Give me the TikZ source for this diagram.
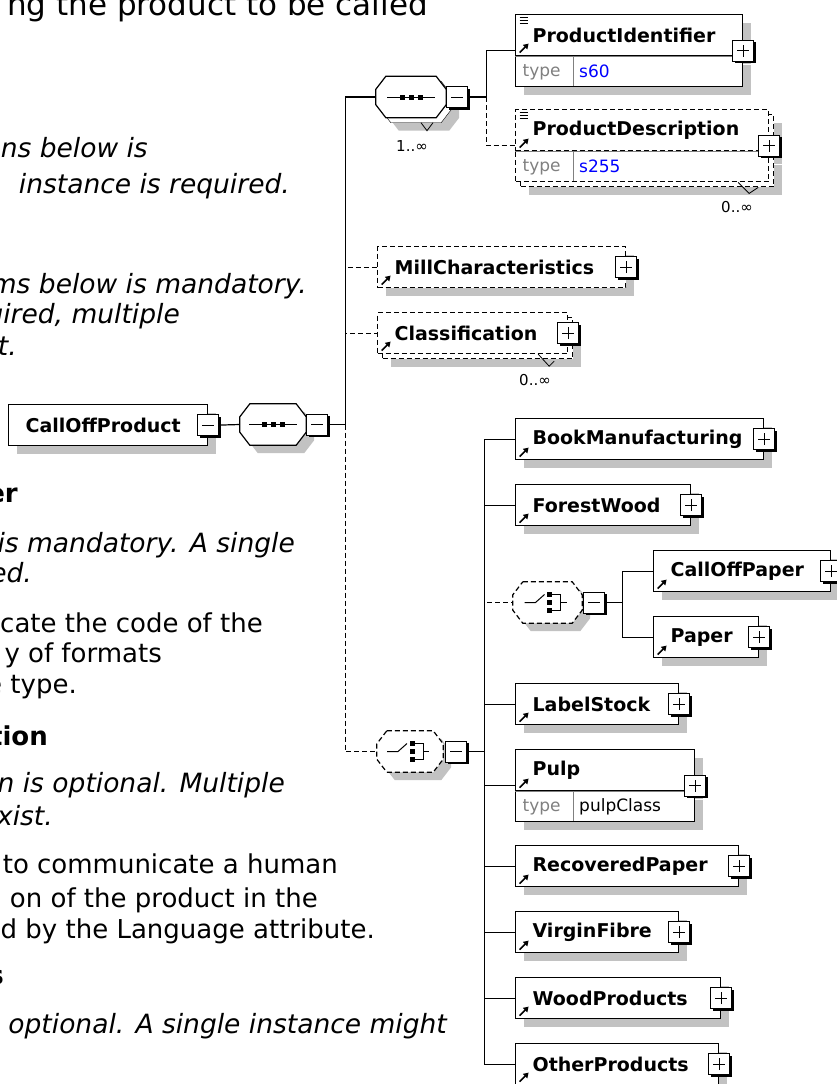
\documentclass[tikz,border=0pt]{standalone}
\usepackage{fontspec}
\setmainfont{DejaVu Sans}
\usetikzlibrary{positioning, arrows.meta, calc, shadows}
\hyphenpenalty=10000
\definecolor{shadowgray}{gray}{0.76}
\definecolor{xsdblue}{RGB}{0,0,255}
\newcommand{\elemfont}{\fontsize{19}{22}\selectfont\bfseries}
\newcommand{\typefont}{\fontsize{17}{20}\selectfont}
\newcommand{\cardfont}{\fontsize{15}{18}\selectfont}
\newcommand{\docfont}{\fontsize{26}{31}\selectfont}
\newcommand{\notefont}{\fontsize{26.5}{31}\selectfont\itshape}
\newcommand{\headfont}{\fontsize{31}{37}\selectfont}
% small icons drawn inside the boxes
\newcommand{\refarrow}{\draw[solid, line width=1.6pt, -{Triangle[length=5pt, width=6pt]}]
  ([shift={(4,-3)}]path picture bounding box.south west) -- ++(9,-9);}
\newcommand{\textlines}{\foreach \ly in {3,6,9}
  \draw[solid, line width=0.8pt] ([shift={(4,\ly)}]path picture bounding box.north west) -- ++(8,0);}
% compositor frame and symbols, drawn round a named node
\newcommand{\octagon}[2][]{\path[octframe, #1]
  ([xshift=10pt]#2.north west) -- ([xshift=-10pt]#2.north east) -- ([yshift=-13pt]#2.north east)
  -- ([yshift=13pt]#2.south east) -- ([xshift=-10pt]#2.south east) -- ([xshift=10pt]#2.south west)
  -- ([yshift=13pt]#2.south west) -- ([yshift=-13pt]#2.north west) -- cycle;}
\newcommand{\seqmark}[1]{\begin{scope}[shift={(#1.center)}, line width=1pt]
  \draw (-24,0) -- (24,0);
  \foreach \dx in {-9,0,9} \fill[black] (\dx-2.5,-2.5) rectangle (\dx+2.5,2.5);
\end{scope}}
\newcommand{\choicemark}[1]{\begin{scope}[shift={(#1.center)}, line width=1pt]
  \draw (-23,0) -- (-12,0) -- (-3,-8);
  \foreach \dy in {-8,0,8} \fill[black] (-0.5,\dy-2.5) rectangle (4.5,\dy+2.5);
  \draw (4.5,-8) -- (13,-8) -- (13,8) -- (4.5,8) (13,0) -- (19,0);
\end{scope}}

\begin{document}
\begin{tikzpicture}[x=1pt, y=-1pt, >=Stealth,
    link/.style={line width=1.2pt},
    optional/.style={dash pattern=on 5pt off 3pt},
    box/.style={draw, fill=white, line width=1.2pt, inner sep=0pt, align=left},
    boxshadow/.style={drop shadow={shadow xshift=8pt, shadow yshift=-8pt, fill=shadowgray, opacity=1}},
    multi/.style={drop shadow={shadow xshift=13pt, shadow yshift=-13pt, fill=shadowgray, opacity=1},
                  copy shadow={shadow xshift=5pt, shadow yshift=-5pt}},
    elem/.style={box, minimum height=41pt, inner xsep=17pt, text width=#1, font=\elemfont,
                 path picture={\refarrow}},
    simple/.style={path picture={\refarrow\textlines}},
    rootelem/.style={box, minimum height=41pt, inner xsep=17pt, text width=#1, font=\elemfont},
    typerow/.style={box, minimum height=30pt, inner xsep=7pt, text width=#1, font=\typefont, text=gray},
    typeval/.style={inner sep=0pt, font=\typefont, anchor=west},
    divider/.style={draw=gray, solid, line width=1pt, shorten >=1pt, shorten <=1pt},
    comp/.style={minimum width=#1, minimum height=41pt, inner sep=0pt},
    octframe/.style={draw, fill=white, line width=1.2pt},
    pmbox/.style={draw, fill=white, solid, line width=1pt, minimum size=21pt, inner sep=0pt,
                  drop shadow={shadow xshift=2pt, shadow yshift=-2pt, fill=black, opacity=1}},
    plusbox/.style={pmbox, path picture={\draw[line width=1pt]
        ([xshift=-6pt]path picture bounding box.center) -- ([xshift=6pt]path picture bounding box.center)
        ([yshift=-6pt]path picture bounding box.center) -- ([yshift=6pt]path picture bounding box.center);}},
    minusbox/.style={pmbox, path picture={\draw[line width=1pt]
        ([xshift=-6pt]path picture bounding box.center) -- ([xshift=6pt]path picture bounding box.center);}},
    card/.style={font=\cardfont, inner sep=0pt},
    tick/.style={line width=0.8pt},
    plain/.style={font=\docfont, inner sep=0pt, anchor=base east},
    note/.style={font=\notefont, inner sep=0pt, anchor=base east},
    heading/.style={font=\docfont\bfseries, inner sep=0pt, anchor=base east}]

\useasboundingbox (0,0) rectangle (837,1084);
\clip (0,0) rectangle (837,1084);
\fill[white] (0,0) rectangle (837,1084);

% page text behind the diagram
\node[font=\headfont, inner sep=0pt, anchor=base east] (intro) at (428,16) {ng the product to be called};
\node[note] (occa) at (148,157) {ns below is};
\node[note] (occb) at (290,193) {instance is required.};
\node[note] (occc) at (307,293) {ms below is mandatory.};
\node[note] (occd) at (180,323) {uired, multiple};
\node[note] (occe) at (17,355) {t.};
\node[heading] (pidhead) at (18,502) {er};
\node[note] (pidocca) at (295,552) {is mandatory. A single};
\node[note] (pidoccb) at (32,582) {ed.};
\node[plain] (piddesca) at (263,632) {cate the code of the};
\node[plain] (piddescb) at (162,662) {y of formats};
\node[plain] (piddescc) at (77,693) {e type.};
\node[heading] (pdhead) at (48,745) {tion};
\node[note] (pdocca) at (285,792) {n is optional. Multiple};
\node[note] (pdoccb) at (53,825) {xist.};
\node[plain] (pddesca) at (338,873) {to communicate a human};
\node[plain] (pddescb) at (318,907) {on of the product in the};
\node[plain] (pddescc) at (375,938) {d by the Language attribute.};
\node[heading] (millhead) at (4,984) {s};
\node[note] (millocc) at (447,1033) {optional. A single instance might};

% root and main sequence
\node[rootelem=165pt, boxshadow, anchor=north west] (root) at (8,404) {CallOffProduct};
\node[minusbox] (rootm) at (root.east) {};
\node[comp=66pt] (seqmain) at (273,424.5) {};
\octagon[boxshadow]{seqmain}
\seqmark{seqmain}
\node[minusbox, right=0pt of seqmain] (seqmainm) {};

% inner sequence with identifier and description
\node[comp=70pt] (seqtop) at (411,97) {};
\octagon[multi]{seqtop}
\seqmark{seqtop}
\node[minusbox, right=0pt of seqtop] (seqtopm) {};
\draw[tick] ([shift={(10,5)}]seqtop.south) -- ++(6,8) -- ++(6,-8);
\node[card] (seqocc) at (412,146) {1..∞};

\node[elem=193pt, simple, boxshadow, anchor=north west] (pid) at (515,14) {ProductIdentifier};
\node[typerow=213pt, boxshadow, anchor=north west] (pidr) at (pid.south west) {type};
\node[typeval, text=xsdblue] (pidv) at ([xshift=64pt]pidr.west) {s60};
\draw[divider] (pidr.north west) -- (pidr.north east)
    ([xshift=58pt]pidr.north west) -- ([xshift=58pt]pidr.south west);
\coordinate (pidin) at ($(pid.north west)!.5!(pidr.south west)$);
\node[plusbox] (pidp) at ($(pid.north east)!.5!(pidr.south east)$) {};

\node[elem=219pt, simple, optional, multi, anchor=north west] (pd) at (515,109) {ProductDescription};
\node[typerow=239pt, optional, multi, anchor=north west] (pdr) at (pd.south west) {type};
\node[typeval, text=xsdblue] (pdv) at ([xshift=64pt]pdr.west) {s255};
\draw[divider] (pdr.north west) -- (pdr.north east)
    ([xshift=58pt]pdr.north west) -- ([xshift=58pt]pdr.south west);
\coordinate (pdin) at ($(pd.north west)!.5!(pdr.south west)$);
\node[plusbox] (pdp) at ($(pd.north east)!.5!(pdr.south east)$) {};
\draw[tick] ([shift={(-31,0)}]pdr.south east) -- ++(11,11) -- ++(9,-6);
\node[card] (pdocc) at (737,207) {0..∞};

% optional children
\node[elem=214pt, optional, boxshadow, anchor=north west] (mill) at (377,246) {MillCharacteristics};
\node[plusbox] (millp) at (mill.east) {};
\node[elem=156pt, optional, multi, anchor=north west] (cls) at (377,312) {Classification};
\node[plusbox] (clsp) at (cls.east) {};
\draw[tick] ([shift={(-30,0)}]cls.south east) -- ++(11,12) -- ++(5,-5);
\node[card] (clsocc) at (535,380) {0..∞};

% product choice
\node[comp=66pt] (pick) at (410,751.5) {};
\octagon[optional, boxshadow]{pick}
\choicemark{pick}
\node[minusbox, right=2pt of pick] (pickm) {};

\node[elem=214pt, boxshadow, anchor=north west] (book) at (515,418) {BookManufacturing};
\node[plusbox] at (book.east) {};
\node[elem=141pt, boxshadow, anchor=north west] (forest) at (515,484) {ForestWood};
\node[plusbox] at (forest.east) {};

\node[comp=69pt] (paperpick) at (547.5,602.5) {};
\octagon[optional, boxshadow]{paperpick}
\choicemark{paperpick}
\node[minusbox, right=1pt of paperpick] (paperpickm) {};
\node[elem=143pt, boxshadow, anchor=north west] (cop) at (653,550) {CallOffPaper};
\node[plusbox] at (cop.east) {};
\node[elem=71pt, boxshadow, anchor=north west] (paper) at (653,616) {Paper};
\node[plusbox] at (paper.east) {};

\node[elem=129pt, boxshadow, anchor=north west] (label) at (515,683) {LabelStock};
\node[plusbox] at (label.east) {};

\node[elem=145pt, boxshadow, anchor=north west] (pulp) at (515,749) {Pulp};
\node[typerow=165pt, boxshadow, anchor=north west] (pulpr) at (pulp.south west) {type};
\node[typeval] (pulpv) at ([xshift=64pt]pulpr.west) {pulpClass};
\draw[divider] (pulpr.north west) -- (pulpr.north east)
    ([xshift=58pt]pulpr.north west) -- ([xshift=58pt]pulpr.south west);
\coordinate (pulpin) at ($(pulp.north west)!.5!(pulpr.south west)$);
\node[plusbox] (pulpp) at ($(pulp.north east)!.5!(pulpr.south east)$) {};

\node[elem=189pt, boxshadow, anchor=north west] (recov) at (515,845) {RecoveredPaper};
\node[plusbox] at (recov.east) {};
\node[elem=129pt, boxshadow, anchor=north west] (virgin) at (515,911) {VirginFibre};
\node[plusbox] at (virgin.east) {};
\node[elem=171pt, boxshadow, anchor=north west] (wood) at (515,977) {WoodProducts};
\node[plusbox] at (wood.east) {};
\node[elem=169pt, boxshadow, anchor=north west] (other) at (515,1043) {OtherProducts};
\node[plusbox] at (other.east) {};

% connectors
\draw[link] (rootm.east) -- (seqmain.west);
\draw[link] (seqmainm.east) -- ++(17,0) coordinate (trunk);
\draw[link, optional] (trunk) |- (mill.west);
\draw[link, optional] (trunk) |- (cls.west);
\draw[link, optional] (trunk) |- (pick.west);
\draw[link] (trunk) |- (seqtop.west);
\draw[link] (seqtopm.east) -- ++(18,0) coordinate (seqjoin);
\draw[link, optional] (seqjoin) |- (pdin);
\draw[link] (seqjoin) |- (pidin);
\draw[link] (pickm.east) -- ++(17,0) coordinate (pickjoin);
\draw[link, optional] (pickjoin) |- (paperpick.west);
\foreach \n in {book.west, forest.west, label.west, pulpin, recov.west, virgin.west, wood.west, other.west}
    \draw[link] (pickjoin) |- (\n);
\draw[link] (paperpickm.east) -- ++(17,0) coordinate (paperjoin);
\draw[link] (paperjoin) |- (cop.west);
\draw[link] (paperjoin) |- (paper.west);
\end{tikzpicture}
\end{document}
